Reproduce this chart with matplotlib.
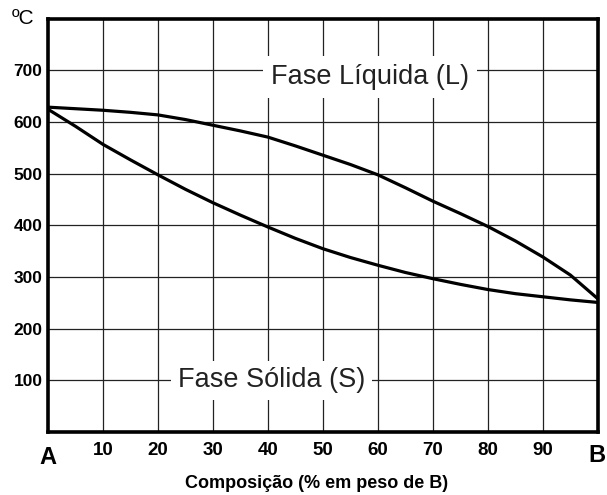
import numpy as np
import matplotlib.pyplot as plt

plt.rcParams['font.family'] = ['Liberation Sans', 'DejaVu Sans']

# composition (% B) and temperatures
comp = [0, 5, 10, 15, 20, 25, 30, 35, 40, 45, 50, 55, 60, 65, 70, 75, 80, 85, 90, 95, 100]
liquidus = [629, 626, 623, 619, 614, 605, 594, 583, 571, 554, 536, 518, 498, 473, 447, 423, 398, 370, 339, 304, 258]
solidus = [625, 592, 557, 527, 498, 470, 444, 420, 397, 375, 355, 338, 323, 309, 297, 286, 276, 268, 262, 256, 251]

xticks = [10, 20, 30, 40, 50, 60, 70, 80, 90]
yticks = [100, 200, 300, 400, 500, 600, 700]

fig = plt.figure(figsize=(6.07, 4.95), dpi=100)
ax = fig.add_axes([0.079, 0.127, 0.906, 0.835])

ax.plot(comp, liquidus, color='black', lw=2.3, solid_capstyle='round', zorder=3)
ax.plot(comp, solidus, color='black', lw=2.3, solid_capstyle='round', zorder=3)

ax.set_xlim(0, 100)
ax.set_ylim(0, 800)
ax.set_xticks(xticks)
ax.set_yticks(yticks)
ax.set_xticklabels([str(t) for t in xticks], fontsize=13.5, fontweight='bold')
ax.set_yticklabels([str(t) for t in yticks], fontsize=12.5, fontweight='bold')
ax.tick_params(length=0, pad=4)
ax.tick_params(axis='x', pad=7)
ax.grid(True, color='#222222', lw=0.9)
ax.set_axisbelow(True)
for s in ax.spines.values():
    s.set_linewidth(2.6)

ax.text(58.5, 688, 'Fase Líquida (L)', fontsize=19.5, ha='center', va='center',
        color='#222222', bbox=dict(boxstyle='square,pad=0.3', fc='white', ec='none'), zorder=4)
ax.text(40.7, 100, 'Fase Sólida (S)', fontsize=19.5, ha='center', va='center',
        color='#222222', bbox=dict(boxstyle='square,pad=0.25', fc='white', ec='none'), zorder=4)

fig.text(48 / 607, 1 - 458 / 495, 'A', fontsize=17, fontweight='bold', ha='center', va='center')
fig.text(597 / 607, 1 - 456 / 495, 'B', fontsize=17, fontweight='bold', ha='center', va='center')
fig.text(23 / 607, 1 - 18 / 495, 'ºC', fontsize=15, ha='center', va='center')
fig.text(317 / 607, 1 - 484 / 495, 'Composição (% em peso de B)', fontsize=13,
         fontweight='bold', ha='center', va='center')

fig.savefig('out.png', dpi=100)
